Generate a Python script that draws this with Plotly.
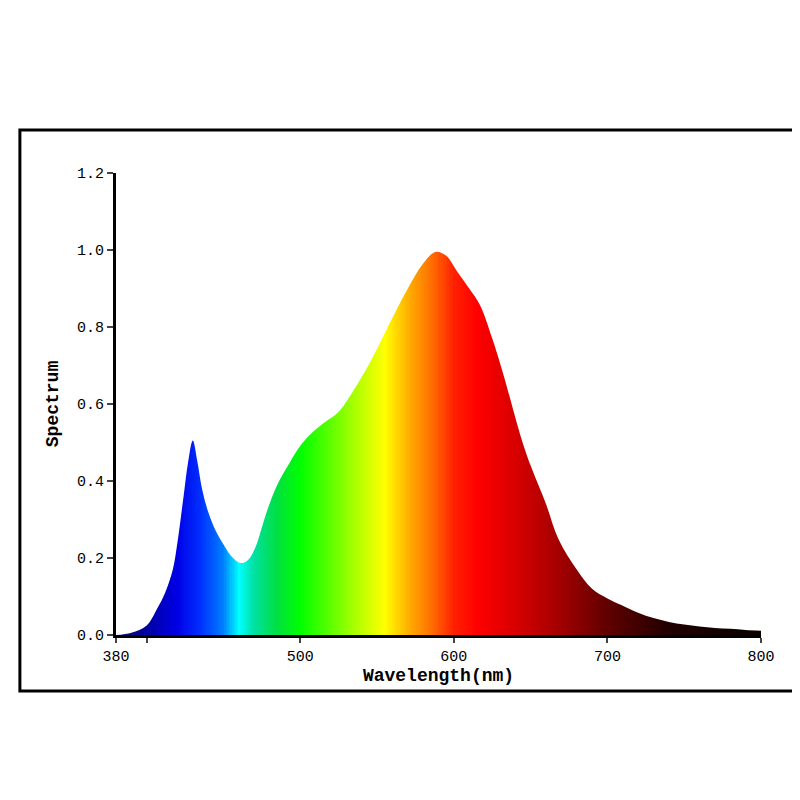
import numpy as np
import plotly.graph_objects as go

wavelength = [380, 390, 400, 407, 412, 417, 420, 424, 427, 430, 433, 436, 440, 445, 450, 455, 461, 466, 471, 475, 479, 485, 492, 498, 505, 515, 525, 537, 547, 557, 570, 580, 588, 595, 602, 610, 617, 625, 632, 644, 650, 660, 668, 680, 690, 700, 709, 720, 730, 740, 750, 760, 770, 780, 790, 800]
spectrum = [0.0, 0.006, 0.025, 0.07, 0.11, 0.17, 0.24, 0.36, 0.45, 0.505, 0.45, 0.38, 0.32, 0.27, 0.235, 0.205, 0.187, 0.195, 0.23, 0.28, 0.33, 0.39, 0.44, 0.48, 0.515, 0.55, 0.58, 0.65, 0.72, 0.80, 0.90, 0.965, 0.995, 0.985, 0.945, 0.90, 0.857, 0.77, 0.68, 0.51, 0.44, 0.34, 0.25, 0.17, 0.12, 0.095, 0.078, 0.058, 0.044, 0.034, 0.027, 0.022, 0.018, 0.016, 0.013, 0.011]

ytick_vals = [0.0, 0.2, 0.4, 0.6, 0.8, 1.0, 1.2]
xtick_vals = [380, 400, 500, 600, 700, 800]
xtick_text = ["380", "", "500", "600", "700", "800"]

# wavelength -> colour stops
color_stops = [(380, "#10106e"), (400, "#0000a0"), (420, "#0000e6"), (435, "#0030ff"),
               (450, "#0080ff"), (460, "#00ffff"), (470, "#00e0a0"), (485, "#00e040"),
               (500, "#00ff00"), (520, "#60ff00"), (540, "#c0ff00"), (555, "#ffff00"),
               (570, "#ffb000"), (585, "#ff7000"), (600, "#ff2000"), (615, "#ff0000"),
               (640, "#d80000"), (670, "#a00000"), (700, "#600000"), (740, "#200000"),
               (800, "#0a0000")]
colorscale = [[(w - 380) / 420, c] for w, c in color_stops]

gx = np.arange(380, 801, 1)
fig = go.Figure()
fig.add_trace(go.Heatmap(x=gx, y=[0, 1.2], z=[gx, gx], colorscale=colorscale,
                         zmin=380, zmax=800, showscale=False, hoverinfo="skip"))
fig.add_trace(go.Scatter(x=wavelength, y=spectrum, mode="lines", line=dict(width=0, shape="spline", color="white"),
                         showlegend=False))
fig.add_trace(go.Scatter(x=wavelength, y=[1.2] * len(wavelength), mode="lines", line=dict(width=0, color="white"),
                         fill="tonexty", fillcolor="white", showlegend=False))

font = dict(family="Courier New, Liberation Mono, monospace", size=15, color="black")
fig.update_layout(
    width=800, height=800, paper_bgcolor="white", plot_bgcolor="white",
    margin=dict(l=108, r=47, t=165, b=173), showlegend=False,
    font=font,
    xaxis=dict(range=[380, 800], tickvals=xtick_vals, ticktext=xtick_text, ticks="outside",
               ticklen=5, tickwidth=2, showline=True, linewidth=3, linecolor="black",
               showgrid=False, zeroline=False,
               title=dict(text="<b>Wavelength(nm)</b>", standoff=4), tickfont=dict(size=15)),
    yaxis=dict(range=[0, 1.2], tickvals=ytick_vals, tickformat=".1f", ticks="outside",
               ticklen=6, tickwidth=2, showline=True, linewidth=3, linecolor="black",
               showgrid=False, zeroline=False,
               title=dict(text="<b>Spectrum</b>", standoff=14), tickfont=dict(size=15)),
)
fig.add_shape(type="rect", xref="paper", yref="paper", x0=-0.149, x1=1.054, y0=-0.121, y1=1.093,
              line=dict(color="black", width=3))
fig.write_html("out.html")
